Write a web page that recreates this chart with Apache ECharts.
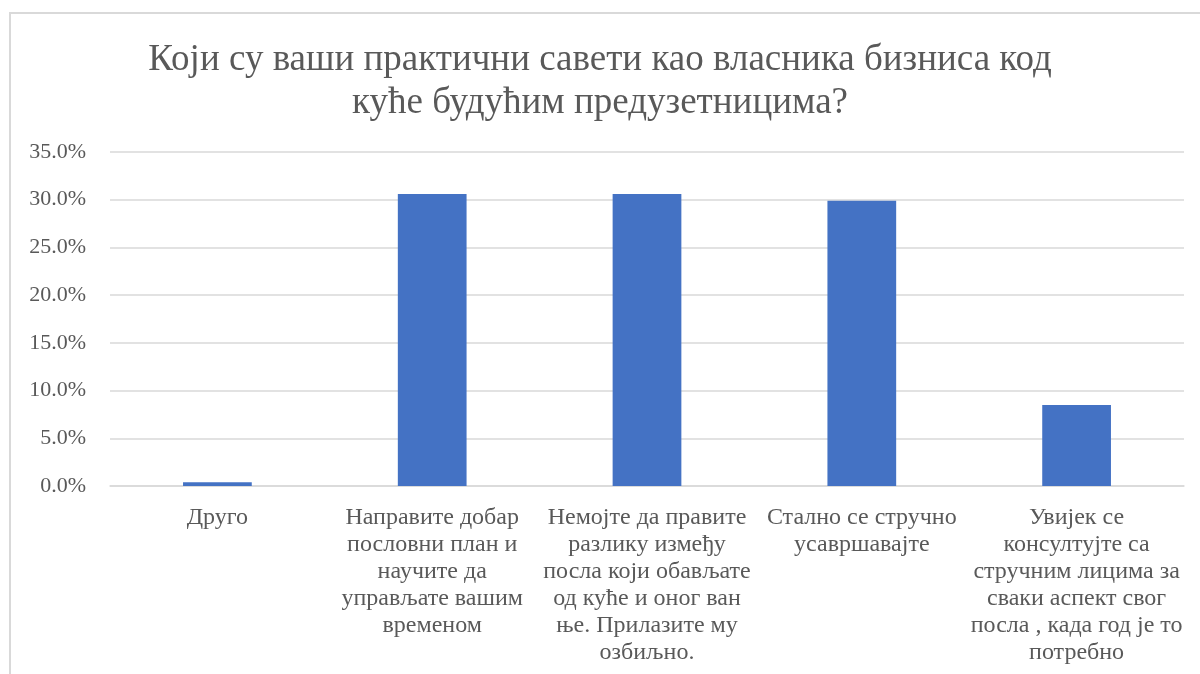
<!DOCTYPE html>
<html>
<head>
<meta charset="utf-8">
<title>Практични савети</title>
<script src="https://cdn.jsdelivr.net/npm/echarts@6/dist/echarts.min.js"></script>
<style>
  html, body { margin: 0; padding: 0; background: #ffffff; }
  #chart { width: 1200px; height: 674px; }
</style>
</head>
<body>
<div id="chart"></div>
<script>
// Chart content
const titleText = 'Који су ваши практични савети као власника бизниса код\nкуће будућим предузетницима?';

const categories = [
  'Друго',
  'Направите добар\nпословни план и\nнаучите да\nуправљате вашим\nвременом',
  'Немојте да правите\nразлику између\nпосла који обављате\nод куће и оног ван\nње. Прилазите му\nозбиљно.',
  'Стално се стручно\nусавршавајте',
  'Увијек се\nконсултујте са\nстручним лицима за\nсваки аспект свог\nпосла , када год је то\nпотребно'
];

// Share of answers, in percent
const shares = [0.4, 30.6, 30.6, 29.9, 8.5];

// Value axis range and ticks, in percent
const axisMin = 0;
const axisMax = 35;
const axisStep = 5;

const serif = '"Liberation Serif", "DejaVu Serif", serif';
const textGrey = '#595959';

const chart = echarts.init(document.getElementById('chart'));

chart.setOption({
  backgroundColor: '#ffffff',
  animation: false,
  title: {
    text: titleText,
    left: 'center',
    top: 34,
    textStyle: {
      fontFamily: serif,
      fontSize: 37,
      fontWeight: 'normal',
      color: textGrey,
      lineHeight: 43
    }
  },
  grid: {
    left: 110,
    right: 16,
    top: 152,
    bottom: 188,
    containLabel: false
  },
  xAxis: {
    type: 'category',
    data: categories,
    axisLine: { show: true, lineStyle: { color: '#d9d9d9', width: 1.5 } },
    axisTick: { show: false },
    axisLabel: {
      interval: 0,
      margin: 18,
      fontFamily: serif,
      fontSize: 24,
      color: textGrey,
      lineHeight: 27,
      align: 'center'
    }
  },
  yAxis: {
    type: 'value',
    min: axisMin,
    max: axisMax,
    interval: axisStep,
    axisLine: { show: false },
    axisTick: { show: false },
    splitLine: { lineStyle: { color: '#d9d9d9', width: 1.5 } },
    axisLabel: {
      margin: 24,
      fontFamily: serif,
      fontSize: 22,
      color: textGrey,
      formatter: v => v.toFixed(1) + '%'
    }
  },
  series: [{
    type: 'bar',
    data: shares,
    barWidth: '32%',
    itemStyle: { color: '#4472c4' }
  }],
  graphic: [
    // chart frame: top and left edges
    {
      type: 'polyline',
      silent: true,
      shape: { points: [[10, 674], [10, 13], [1200, 13]] },
      style: { stroke: '#d9d9d9', lineWidth: 2, fill: null }
    }
  ]
});
</script>
</body>
</html>
